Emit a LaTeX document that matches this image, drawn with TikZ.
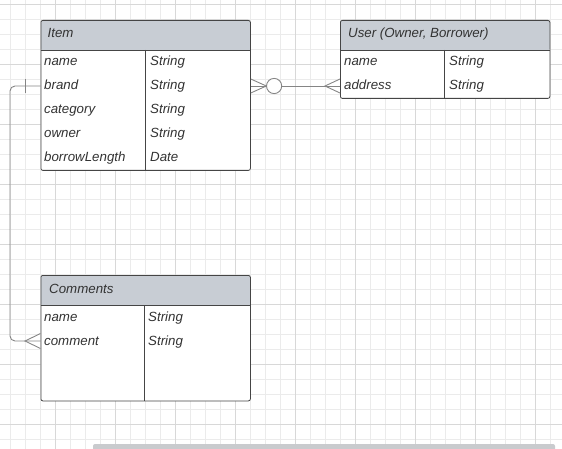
\documentclass[tikz,border=0pt]{standalone}
\usepackage{fontspec}
\setmainfont{Liberation Sans}
\usetikzlibrary{positioning}
\definecolor{hdfill}{HTML}{C8CDD4}
\definecolor{boxline}{HTML}{454545}
\definecolor{txt}{HTML}{333333}
\definecolor{relgray}{HTML}{858585}
\definecolor{gridminor}{HTML}{EBEBEB}
\definecolor{gridmajor}{HTML}{D8D8D8}
\definecolor{scrollgray}{HTML}{C9CBCE}

\begin{document}
\begin{tikzpicture}[x=1pt, y=-1pt,
        entity/.style={draw=boxline, line width=0.8pt, fill=white, rounded corners=2pt,
            anchor=north west, inner sep=0pt, minimum width=209.5pt,
            path picture={\fill[hdfill] (path picture bounding box.north west)
                rectangle ([yshift=-30pt]path picture bounding box.north east);}},
        sep/.style={draw=boxline, line width=0.8pt},
        attr/.style={anchor=west, inner sep=0pt, text=txt, text height=10pt, text depth=2pt,
            font=\fontsize{13.3}{16}\selectfont\itshape},
        rel/.style={draw=relgray, line width=0.9pt}]
        \useasboundingbox (0, 0) rectangle (562, 449);
        % background grid
        \begin{scope}
            \clip (0, 0) rectangle (562, 449);
            \draw[gridminor, line width=0.8pt, step=15pt, shift={(10, 4)}] (-15, -15) grid (560, 450);
            \draw[gridmajor, line width=0.8pt, step=60pt, shift={(55, 4)}] (-60, -60) grid (520, 450);
            \fill[scrollgray, rounded corners=2pt] (93, 444) rectangle (555, 453);
        \end{scope}

        % Item
        \node[entity, minimum height=150pt] at (40.5, 20)(item){};
        \draw[sep] ([yshift=-30pt]item.north west) -- ([yshift=-30pt]item.north east);
        \draw[sep] ([xshift=105pt, yshift=-30pt]item.north west) -- ([xshift=105pt]item.south west);
        \node[attr] at (47.5, 34)(item-hd){Item};
        \node[attr] at (44, 62)(item-name){name};
        \node[attr] at (150, 62)(item-name-t){String};
        \node[attr] at (44, 86)(item-brand){brand};
        \node[attr] at (150, 86)(item-brand-t){String};
        \node[attr] at (44, 110)(item-category){category};
        \node[attr] at (150, 110)(item-category-t){String};
        \node[attr] at (44, 134)(item-owner){owner};
        \node[attr] at (150, 134)(item-owner-t){String};
        \node[attr] at (44, 158)(item-borrow){borrowLength};
        \node[attr] at (150, 158)(item-borrow-t){Date};

        % User
        \node[entity, minimum height=78pt] at (340, 20)(user){};
        \draw[sep] ([yshift=-30pt]user.north west) -- ([yshift=-30pt]user.north east);
        \draw[sep] ([xshift=104.5pt, yshift=-30pt]user.north west) -- ([xshift=104.5pt]user.south west);
        \node[attr] at (348, 34)(user-hd){User (Owner, Borrower)};
        \node[attr] at (344, 62)(user-name){name};
        \node[attr] at (449, 62)(user-name-t){String};
        \node[attr] at (344, 86)(user-address){address};
        \node[attr] at (449, 86)(user-address-t){String};

        % Comments
        \node[entity, minimum height=125.5pt] at (40.5, 275)(comments){};
        \draw[sep] ([yshift=-30pt]comments.north west) -- ([yshift=-30pt]comments.north east);
        \draw[sep] ([xshift=104pt, yshift=-30pt]comments.north west) -- ([xshift=104pt]comments.south west);
        \node[attr] at (49, 289.5)(comments-hd){Comments};
        \node[attr] at (44, 317)(comments-name){name};
        \node[attr] at (148, 317)(comments-name-t){String};
        \node[attr] at (44, 341)(comments-comment){comment};
        \node[attr] at (148, 341)(comments-comment-t){String};

        % relations
        \draw[rel] (item.east |- item-brand) -- (user.west |- user-address);
        \draw[rel] (item.east |- item-brand) ++(0, -7) -- ++(15.5, 7) -- ++(-15.5, 7);
        \draw[rel, fill=white] (item.east |- item-brand) ++(23.3, 0) circle (7.6pt);
        \draw[rel] (user.west |- user-address) ++(0, -7) -- ++(-15, 7) -- ++(15, 7);

        \draw[rel, rounded corners=5pt] (item.west |- item-brand) -- ++(-30.5, 0) |- (comments.west |- comments-comment);
        \draw[rel] (item.west |- item-brand) ++(-15.5, -7) -- ++(0, 14);
        \draw[rel] (comments.west |- comments-comment) ++(0, -7.5) -- ++(-15.5, 7.5) -- ++(15.5, 7.5);
    \end{tikzpicture}
\end{document}
